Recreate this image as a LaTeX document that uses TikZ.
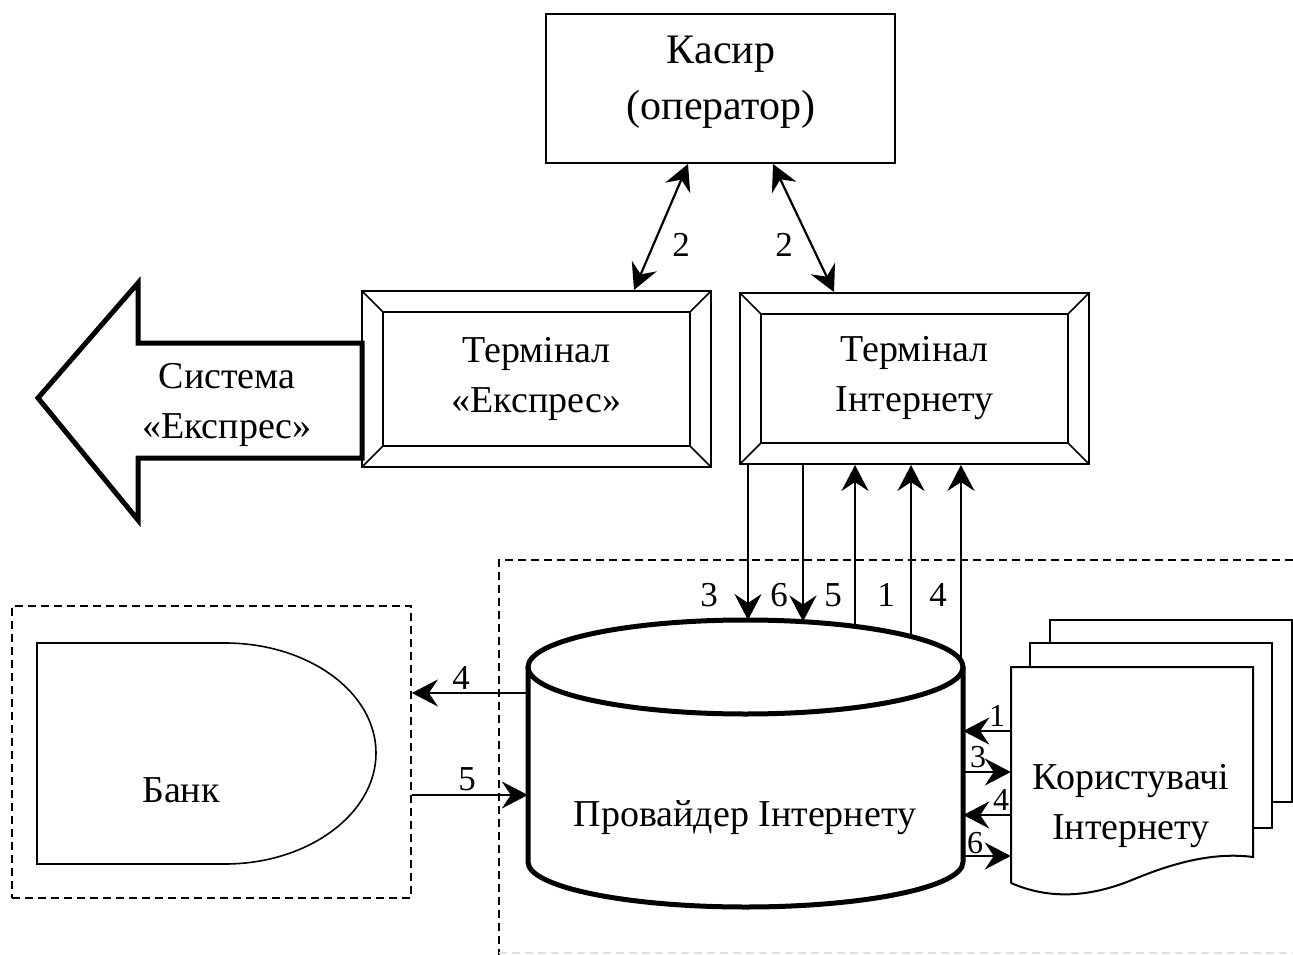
\documentclass[tikz,border=0pt]{standalone}
\usepackage{fontspec}
\setmainfont{Liberation Serif}
\usetikzlibrary{arrows.meta,calc}
\begin{document}
\begin{tikzpicture}[x=1pt,y=-1pt,
  txt/.style={font=\fontsize{38}{50}\selectfont, align=center, inner sep=0pt},
  lbl/.style={font=\fontsize{35}{40}\selectfont, inner sep=0pt},
  slbl/.style={font=\fontsize{32}{36}\selectfont, inner sep=0pt},
  tip/.tip={Stealth[length=26pt,width=27pt,inset=9pt]},
  conn/.style={line width=2.2pt, -tip},
  biconn/.style={line width=2.2pt, tip-tip},
  dashframe/.style={line width=1.8pt, dash pattern=on 8pt off 5pt},
  bevel/.style={draw, line width=2pt, minimum width=349pt, minimum height=#1,
    path picture={
      \draw[line width=2pt]
        ([shift={(21pt,-21pt)}]path picture bounding box.north west) rectangle
        ([shift={(-21pt,21pt)}]path picture bounding box.south east);
      \draw[line width=1.6pt]
        (path picture bounding box.north west) -- ([shift={(21pt,-21pt)}]path picture bounding box.north west)
        (path picture bounding box.north east) -- ([shift={(-21pt,-21pt)}]path picture bounding box.north east)
        (path picture bounding box.south west) -- ([shift={(21pt,21pt)}]path picture bounding box.south west)
        (path picture bounding box.south east) -- ([shift={(-21pt,21pt)}]path picture bounding box.south east);
    }},
]
\useasboundingbox (0,0) rectangle (1293,955);

% cashier
\node[draw, line width=2pt, minimum width=349pt, minimum height=149pt] (kas) at (720.5,88.5) {};
\node[txt, font=\fontsize{42}{56}\selectfont] (kastxt) at (721,82) {Касир\\(оператор)};

% terminals
\node[bevel=176pt, txt] (te) at (536.5,379) {Термінал\\«Експрес»};
\node[bevel=171pt, txt] (ti) at (914.5,378.5) {Термінал\\Інтернету};

\draw[biconn] ([xshift=-32.5pt]kas.south) -- ([xshift=97.5pt]te.north);
\draw[biconn] ([xshift=52.5pt]kas.south) -- ([xshift=-80.5pt]ti.north);
\node[lbl] (l2a) at (681,245) {2};
\node[lbl] (l2b) at (784,245) {2};

% big arrow "Система Експрес"
\draw[line width=5pt, line join=miter]
  (362,343) -- (138,343) -- (138,283) -- (38,398) -- (138,520) -- (138,458) -- (362,458) -- cycle;
\node[txt] (sys) at (227,405) {Система\\«Експрес»};

% bank
\node[draw, dashframe, minimum width=399pt, minimum height=292pt] (bankbox) at (211.5,752) {};
\draw[line width=2pt] (225,643) -- (37,643) -- (37,864) -- (225,864);
\draw[line width=1.6pt] (225,864) .. controls (308,864) and (376,814) .. (376,753)
  .. controls (376,692) and (308,643) .. (225,643);
\node[txt] (bank) at (181,790) {Банк};

% provider frame
\draw[dashframe] (1293,560) -- (499,560) -- (499,955);
\draw[dashframe, black!12] (499,953) -- (1293,953);

% cylinder
\node[minimum width=435pt, minimum height=287pt] (cyl) at (745.5,763.5) {};
\draw[line width=5pt] (528,667) -- (528,862) arc[start angle=180, end angle=360, x radius=217.5pt, y radius=45pt] -- (963,667);
\draw[line width=5pt] (745.5,667) ellipse [x radius=217.5pt, y radius=47pt];
\node[txt] (prov) at (745,818) {Провайдер Інтернету};

% vertical connectors terminal <-> provider
\coordinate (c3) at (748,620);
\coordinate (c6) at (803,621.5);
\coordinate (c5) at (855,626.5);
\coordinate (c1) at (911,637);
\coordinate (c4) at (961,660);
\draw[conn] (c3 |- ti.south) -- (c3);
\draw[conn] (c6 |- ti.south) -- (c6);
\draw[conn] (c5) -- (c5 |- ti.south);
\draw[conn] (c1) -- (c1 |- ti.south);
\draw[conn] (c4) -- (c4 |- ti.south);
\node[lbl] (l3) at (709,595) {3};
\node[lbl] (l6) at (779,595) {6};
\node[lbl] (l5) at (833,595) {5};
\node[lbl] (l1) at (886,595) {1};
\node[lbl] (l4) at (938,595) {4};

% bank connectors
\draw[conn] (cyl.west |- 0,693) -- (bankbox.east |- 0,693);
\draw[conn] (bankbox.east |- 0,795) -- (cyl.west |- 0,795);
\node[lbl] (lb4) at (461,678) {4};
\node[lbl] (lb5) at (467,779) {5};

% users documents
\draw[line width=2pt] (1050,643) -- (1050,620) -- (1292,620) -- (1292,802) -- (1272,802);
\draw[line width=2pt, fill=white] (1030,667) -- (1030,643) -- (1272,643) -- (1272,828) -- (1253,828);
\draw[line width=2pt] (1011,883) -- (1011,667) -- (1253,667) -- (1253,857)
  .. controls (1215,852) and (1175,862) .. (1132,880)
  .. controls (1090,897) and (1050,900) .. (1011,883);
\node[minimum width=242pt, minimum height=216pt] (users) at (1132,775) {};
\node[txt] (userstxt) at (1131,806) {Користувачі\\Інтернету};

\draw[conn] (users.west |- 0,731) -- (cyl.east |- 0,731);
\draw[conn] (cyl.east |- 0,772) -- (users.west |- 0,772);
\draw[conn] (users.west |- 0,815) -- (cyl.east |- 0,815);
\draw[conn] (cyl.east |- 0,856) -- (users.west |- 0,856);
\node[slbl] (r1) at (997,716) {1};
\node[slbl] (r3) at (978,757) {3};
\node[slbl] (r4) at (1001,800) {4};
\node[slbl] (r6) at (975,843) {6};
\end{tikzpicture}
\end{document}
